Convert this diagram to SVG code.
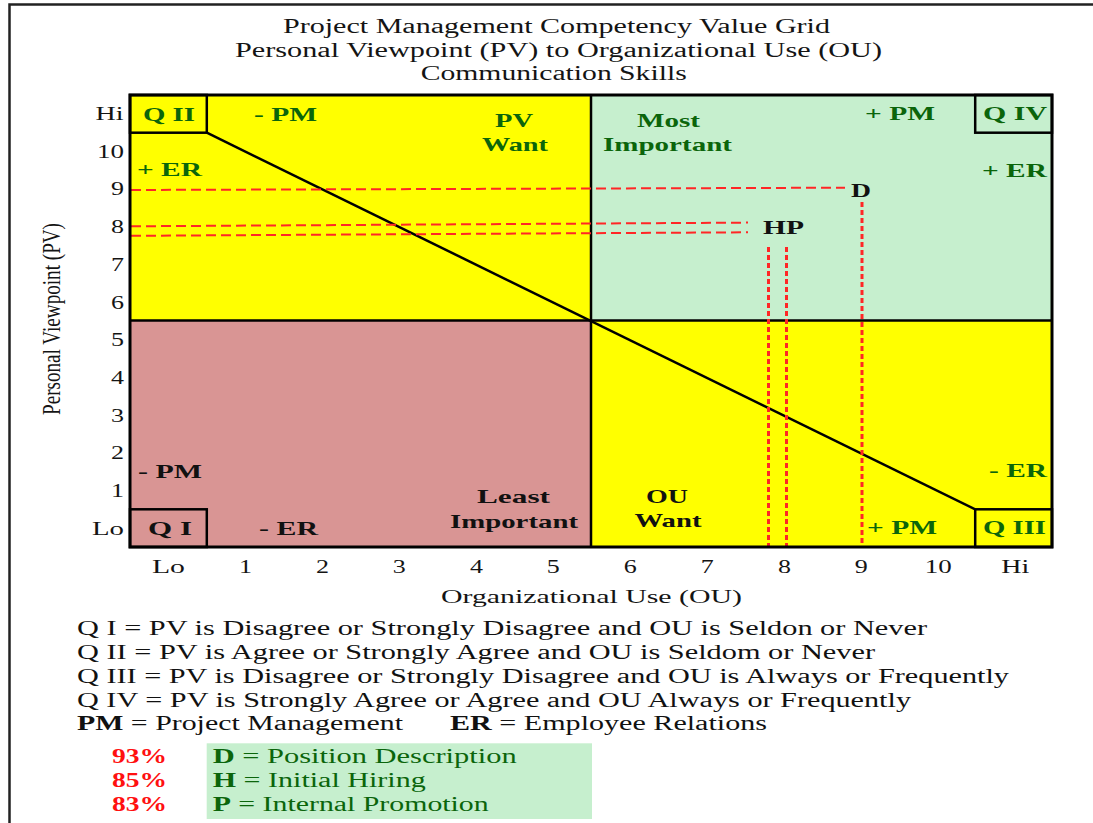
<svg xmlns="http://www.w3.org/2000/svg" width="1093" height="823" viewBox="0 0 1093 823">
  <style>
    text { font-family: "Liberation Serif", "Times New Roman", serif; }
    .title { font-size: 20px; fill: #141414; text-anchor: middle; }
    .tick { font-size: 18px; fill: #141414; }
    .tx { text-anchor: middle; }
    .ty { text-anchor: end; }
    .lbl { font-size: 19px; font-weight: bold; }
    .g { fill: #0b650b; }
    .k { fill: #111; }
    .mid { text-anchor: middle; }
    .leg { font-size: 20px; fill: #111; }
    .pct { font-size: 20px; font-weight: bold; fill: #ff1010; }
    .legg { font-size: 20px; fill: #0b650b; }
    .edge { fill: none; stroke: #000; stroke-width: 3; }
    .div { fill: none; stroke: #000; stroke-width: 2.5; }
    .hdash { fill: none; stroke: #ff2626; stroke-width: 2; stroke-dasharray: 10 5; }
    .vdash { fill: none; stroke: #ff2626; stroke-width: 3; stroke-dasharray: 5 3; }
  </style>

  <!-- page frame -->
  <path d="M9.5 823 V4.5 H1093" fill="none" stroke="#222" stroke-width="2.5"/>

  <!-- title -->
  <g id="title">
    <text class="title" x="556.5" y="33" textLength="547" lengthAdjust="spacingAndGlyphs">Project Management Competency Value Grid</text>
    <text class="title" x="558.5" y="57" textLength="647" lengthAdjust="spacingAndGlyphs">Personal Viewpoint (PV) to Organizational Use (OU)</text>
    <text class="title" x="553.7" y="80" textLength="266" lengthAdjust="spacingAndGlyphs">Communication Skills</text>
  </g>

  <!-- quadrant fills -->
  <g id="quadrant-upper-left"><rect x="130" y="95" width="461" height="225.5" fill="#ffff00"/></g>
  <g id="quadrant-upper-right"><rect x="591" y="95" width="461" height="225.5" fill="#c6efce"/></g>
  <g id="quadrant-lower-left"><rect x="130" y="320.5" width="461" height="226.5" fill="#d99594"/></g>
  <g id="quadrant-lower-right"><rect x="591" y="320.5" width="461" height="226.5" fill="#ffff00"/></g>

  <!-- dividers and corner boxes -->
  <g id="grid-lines">
    <line class="div" x1="591" y1="95" x2="591" y2="547" stroke-width="3"/>
    <line class="div" x1="130" y1="320.5" x2="1052" y2="320.5" stroke-width="2"/>
  </g>
  <g id="box-q2"><rect class="div" x="130" y="95" width="76.8" height="37.7"/></g>
  <g id="box-q4"><rect class="div" x="975.2" y="95" width="76.8" height="37.7"/></g>
  <g id="box-q1"><rect class="div" x="130" y="509.3" width="76.8" height="37.7"/></g>
  <g id="box-q3"><rect class="div" x="975.2" y="509.3" width="76.8" height="37.7"/></g>

  <!-- diagonal and reference lines -->
  <g id="connectors">
    <line x1="206.8" y1="132.7" x2="975.2" y2="509.3" stroke="#000" stroke-width="2.5"/>
    <line class="hdash" x1="131" y1="190" x2="845" y2="187.7"/>
    <line class="hdash" x1="131" y1="226.3" x2="748" y2="222.6"/>
    <line class="hdash" x1="131" y1="235.8" x2="748" y2="232.3"/>
    <line class="vdash" x1="862" y1="202" x2="862" y2="546"/>
    <line class="vdash" x1="768.5" y1="247" x2="768.5" y2="546"/>
    <line class="vdash" x1="786.5" y1="247" x2="786.5" y2="546"/>
  </g>

  <!-- grid outline -->
  <rect class="edge" x="130" y="95" width="922" height="452"/>

  <!-- quadrant labels -->
  <g id="labels-q2">
    <text class="lbl g" x="143" y="121" textLength="52" lengthAdjust="spacingAndGlyphs">Q II</text>
    <text class="lbl g" x="254" y="121" textLength="63" lengthAdjust="spacingAndGlyphs">- PM</text>
    <text class="lbl g" x="137" y="176" textLength="65" lengthAdjust="spacingAndGlyphs">+ ER</text>
    <text class="lbl g mid" x="514" y="127" textLength="38" lengthAdjust="spacingAndGlyphs">PV</text>
    <text class="lbl g mid" x="515" y="151" textLength="66" lengthAdjust="spacingAndGlyphs">Want</text>
  </g>
  <g id="labels-q4">
    <text class="lbl g mid" x="668.5" y="127" textLength="63" lengthAdjust="spacingAndGlyphs">Most</text>
    <text class="lbl g mid" x="667.5" y="151" textLength="129" lengthAdjust="spacingAndGlyphs">Important</text>
    <text class="lbl g" x="865" y="120" textLength="70" lengthAdjust="spacingAndGlyphs">+ PM</text>
    <text class="lbl g" x="983" y="120" textLength="64" lengthAdjust="spacingAndGlyphs">Q IV</text>
    <text class="lbl g" x="982" y="177" textLength="65" lengthAdjust="spacingAndGlyphs">+ ER</text>
  </g>
  <g id="point-d">
    <text class="lbl k mid" x="861" y="197" textLength="20" lengthAdjust="spacingAndGlyphs">D</text>
  </g>
  <g id="point-hp">
    <text class="lbl k mid" x="783.5" y="234" textLength="41" lengthAdjust="spacingAndGlyphs">HP</text>
  </g>
  <g id="labels-q1">
    <text class="lbl k" x="138" y="478" textLength="64" lengthAdjust="spacingAndGlyphs">- PM</text>
    <text class="lbl k" x="148" y="535" textLength="44" lengthAdjust="spacingAndGlyphs">Q I</text>
    <text class="lbl k" x="259" y="535" textLength="59" lengthAdjust="spacingAndGlyphs">- ER</text>
    <text class="lbl k mid" x="513.5" y="503" textLength="73" lengthAdjust="spacingAndGlyphs">Least</text>
    <text class="lbl k mid" x="514" y="528" textLength="128" lengthAdjust="spacingAndGlyphs">Important</text>
  </g>
  <g id="labels-q3">
    <text class="lbl k mid" x="667" y="503" textLength="42" lengthAdjust="spacingAndGlyphs">OU</text>
    <text class="lbl k mid" x="668" y="527" textLength="67" lengthAdjust="spacingAndGlyphs">Want</text>
    <text class="lbl g" x="867" y="534" textLength="70" lengthAdjust="spacingAndGlyphs">+ PM</text>
    <text class="lbl g" x="983" y="534" textLength="63" lengthAdjust="spacingAndGlyphs">Q III</text>
    <text class="lbl g" x="989" y="477" textLength="58" lengthAdjust="spacingAndGlyphs">- ER</text>
  </g>

  <!-- vertical axis -->
  <g id="axis-pv">
    <text class="tick ty" x="123.5" y="120" textLength="28" lengthAdjust="spacingAndGlyphs">Hi</text>
    <text class="tick ty" x="124" y="157.5" textLength="27" lengthAdjust="spacingAndGlyphs">10</text>
    <text class="tick ty" x="124" y="195" textLength="13" lengthAdjust="spacingAndGlyphs">9</text>
    <text class="tick ty" x="124" y="233" textLength="13" lengthAdjust="spacingAndGlyphs">8</text>
    <text class="tick ty" x="124" y="271" textLength="13" lengthAdjust="spacingAndGlyphs">7</text>
    <text class="tick ty" x="124" y="308.5" textLength="13" lengthAdjust="spacingAndGlyphs">6</text>
    <text class="tick ty" x="124" y="346" textLength="13" lengthAdjust="spacingAndGlyphs">5</text>
    <text class="tick ty" x="124" y="384" textLength="13" lengthAdjust="spacingAndGlyphs">4</text>
    <text class="tick ty" x="124" y="421.5" textLength="13" lengthAdjust="spacingAndGlyphs">3</text>
    <text class="tick ty" x="124" y="459" textLength="13" lengthAdjust="spacingAndGlyphs">2</text>
    <text class="tick ty" x="124" y="497" textLength="13" lengthAdjust="spacingAndGlyphs">1</text>
    <text class="tick ty" x="124" y="535" textLength="32" lengthAdjust="spacingAndGlyphs">Lo</text>
    <text class="tick mid" transform="translate(60,319) scale(1.4,1) rotate(-90)" x="0" y="0" font-size="20" textLength="192" lengthAdjust="spacingAndGlyphs">Personal Viewpoint (PV)</text>
  </g>

  <!-- horizontal axis -->
  <g id="axis-ou">
    <text class="tick tx" x="168.4" y="573" textLength="33" lengthAdjust="spacingAndGlyphs">Lo</text>
    <text class="tick tx" x="245.6" y="573" textLength="13" lengthAdjust="spacingAndGlyphs">1</text>
    <text class="tick tx" x="322.4" y="573" textLength="13" lengthAdjust="spacingAndGlyphs">2</text>
    <text class="tick tx" x="399.2" y="573" textLength="13" lengthAdjust="spacingAndGlyphs">3</text>
    <text class="tick tx" x="476.6" y="573" textLength="13" lengthAdjust="spacingAndGlyphs">4</text>
    <text class="tick tx" x="553.2" y="573" textLength="13" lengthAdjust="spacingAndGlyphs">5</text>
    <text class="tick tx" x="630.2" y="573" textLength="13" lengthAdjust="spacingAndGlyphs">6</text>
    <text class="tick tx" x="707.2" y="573" textLength="13" lengthAdjust="spacingAndGlyphs">7</text>
    <text class="tick tx" x="784.4" y="573" textLength="13" lengthAdjust="spacingAndGlyphs">8</text>
    <text class="tick tx" x="861.2" y="573" textLength="13" lengthAdjust="spacingAndGlyphs">9</text>
    <text class="tick tx" x="938.2" y="573" textLength="27" lengthAdjust="spacingAndGlyphs">10</text>
    <text class="tick tx" x="1015.2" y="573" textLength="28" lengthAdjust="spacingAndGlyphs">Hi</text>
    <text class="tick tx" x="591.5" y="603" font-size="20" textLength="301" lengthAdjust="spacingAndGlyphs">Organizational Use (OU)</text>
  </g>

  <!-- definitions -->
  <g id="legend">
    <text class="leg" x="77" y="635" textLength="850" lengthAdjust="spacingAndGlyphs">Q I = PV is Disagree or Strongly Disagree and OU is Seldon or Never</text>
    <text class="leg" x="77" y="659" textLength="798" lengthAdjust="spacingAndGlyphs">Q II = PV is Agree or Strongly Agree and OU is Seldom or Never</text>
    <text class="leg" x="77" y="683" textLength="932" lengthAdjust="spacingAndGlyphs">Q III = PV is Disagree or Strongly Disagree and OU is Always or Frequently</text>
    <text class="leg" x="77" y="707" textLength="834" lengthAdjust="spacingAndGlyphs">Q IV = PV is Strongly Agree or Agree and OU Always or Frequently</text>
    <text class="leg" x="77" y="730" textLength="326" lengthAdjust="spacingAndGlyphs"><tspan font-weight="bold">PM</tspan> = Project Management</text>
    <text class="leg" x="450" y="730" textLength="317" lengthAdjust="spacingAndGlyphs"><tspan font-weight="bold">ER</tspan> = Employee Relations</text>
  </g>

  <g id="practices">
    <rect x="206.7" y="743.3" width="385.3" height="75.7" fill="#c6efce"/>
    <text class="pct" x="112" y="763" textLength="55" lengthAdjust="spacingAndGlyphs">93%</text>
    <text class="pct" x="112" y="787" textLength="55" lengthAdjust="spacingAndGlyphs">85%</text>
    <text class="pct" x="112" y="811" textLength="55" lengthAdjust="spacingAndGlyphs">83%</text>
    <text class="legg" x="212.7" y="763" textLength="304" lengthAdjust="spacingAndGlyphs"><tspan font-weight="bold">D</tspan> = Position Description</text>
    <text class="legg" x="212.7" y="787" textLength="213" lengthAdjust="spacingAndGlyphs"><tspan font-weight="bold">H</tspan> = Initial Hiring</text>
    <text class="legg" x="212.7" y="811" textLength="276" lengthAdjust="spacingAndGlyphs"><tspan font-weight="bold">P</tspan> = Internal Promotion</text>
  </g>
</svg>
